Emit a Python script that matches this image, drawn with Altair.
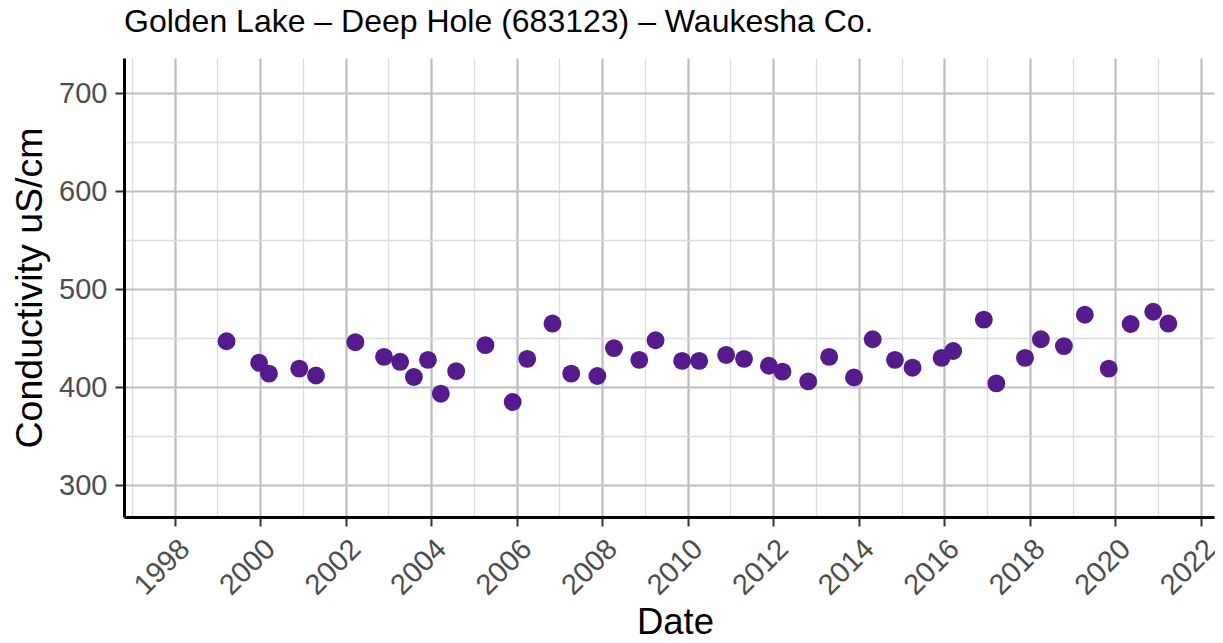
import altair as alt
import pandas as pd

# Sample dates and conductivity values (uS/cm)
dates = [
    "1999-03-21", "1999-12-24", "2000-03-17", "2000-12-01", "2001-04-23",
    "2002-03-25", "2002-11-25", "2003-04-12", "2003-08-07", "2003-12-05",
    "2004-03-24", "2004-08-02", "2005-04-09", "2005-11-28", "2006-04-01",
    "2006-11-03", "2007-04-12", "2007-11-21", "2008-04-11", "2008-11-13",
    "2009-04-01", "2009-11-14", "2010-04-09", "2010-11-25", "2011-04-27",
    "2011-11-25", "2012-03-20", "2012-10-26", "2013-04-23", "2013-11-21",
    "2014-04-30", "2014-11-06", "2015-04-05", "2015-12-09", "2016-03-17",
    "2016-12-04", "2017-03-21", "2017-11-21", "2018-04-05", "2018-10-19",
    "2019-04-16", "2019-11-06", "2020-05-11", "2020-11-20", "2021-03-29",
]
conductivity = [
    447, 425, 414, 419, 412,
    446, 431, 426, 410.5, 428,
    393.5, 416.5, 443, 385, 429,
    465, 414, 411.5, 440, 428,
    448, 427, 427, 433, 429,
    422, 416, 406, 431, 410,
    449, 428, 420, 430, 437,
    469, 404, 430, 449, 442,
    474, 419, 464.5, 477, 465,
]

x_major_years = [1998, 2000, 2002, 2004, 2006, 2008, 2010, 2012, 2014, 2016, 2018, 2020, 2022]
x_minor_years = [1997, 1999, 2001, 2003, 2005, 2007, 2009, 2011, 2013, 2015, 2017, 2019, 2021]
y_major = [300, 400, 500, 600, 700]
y_minor = [350, 450, 550, 650]

df = pd.DataFrame({"date": dates, "cond": conductivity})

FONT = "Liberation Sans"

x_scale = alt.Scale(domain=[alt.DateTime(year=1996, month=10, date=26),
                            alt.DateTime(year=2022, month=4, date=23)])
y_scale = alt.Scale(domain=[267.8, 735.7], nice=False, zero=False)

minor = alt.Chart(df).mark_circle(opacity=0).encode(
    x=alt.X("date:T", scale=x_scale,
            axis=alt.Axis(values=[alt.DateTime(year=y) for y in x_minor_years],
                          grid=True, gridColor="#DCDCDC", gridWidth=1.3,
                          labels=False, ticks=False, domain=False, title="",
                          orient="bottom")),
    y=alt.Y("cond:Q", scale=y_scale,
            axis=alt.Axis(values=y_minor, grid=True, gridColor="#DCDCDC",
                          gridWidth=1.3, labels=False, ticks=False,
                          domain=False, title="", orient="left")),
)

points = alt.Chart(df).mark_circle(size=320, opacity=1, color="#551A8B").encode(
    x=alt.X("date:T", scale=x_scale,
            axis=alt.Axis(values=[alt.DateTime(year=y) for y in x_major_years],
                          format="%Y", labelAngle=315, labelAlign="right",
                          labelBaseline="top", labelFontSize=29,
                          labelColor="#4D4D4D", labelFont=FONT, labelPadding=8,
                          labelOverlap=False, labelFlush=False,
                          tickSize=9, tickWidth=2, tickColor="#333333",
                          domainColor="black", domainWidth=3,
                          grid=True, gridColor="#BEBEBE", gridWidth=2.2,
                          title="Date", titleFont=FONT, titleFontSize=36.5,
                          titleFontWeight="normal", titleColor="black",
                          titleBaseline="alphabetic", titleY=116,
                          titleX=551, orient="bottom")),
    y=alt.Y("cond:Q", scale=y_scale,
            axis=alt.Axis(values=y_major, labelFontSize=29,
                          labelColor="#4D4D4D", labelFont=FONT, labelPadding=8,
                          tickSize=9, tickWidth=2, tickColor="#333333",
                          domainColor="black", domainWidth=3,
                          grid=True, gridColor="#BEBEBE", gridWidth=2.2,
                          title="Conductivity uS/cm", titleFont=FONT,
                          titleFontSize=37.5, titleFontWeight="normal",
                          titleColor="black", titlePadding=9, orient="left")),
)

chart = alt.layer(minor, points).resolve_axis(
    x="independent", y="independent"
).properties(
    width=1090,
    height=459,
    title=alt.TitleParams("Golden Lake – Deep Hole (683123) – Waukesha Co.",
                          anchor="start", frame="group", fontSize=32, font=FONT,
                          fontWeight="normal", color="black", offset=19),
    autosize=alt.AutoSizeParams(type="none"),
    padding={"left": 116, "top": 50, "right": 1, "bottom": 117},
).configure_view(stroke=None)

chart.save("out.html", embed_options={"renderer": "svg", "actions": False})
